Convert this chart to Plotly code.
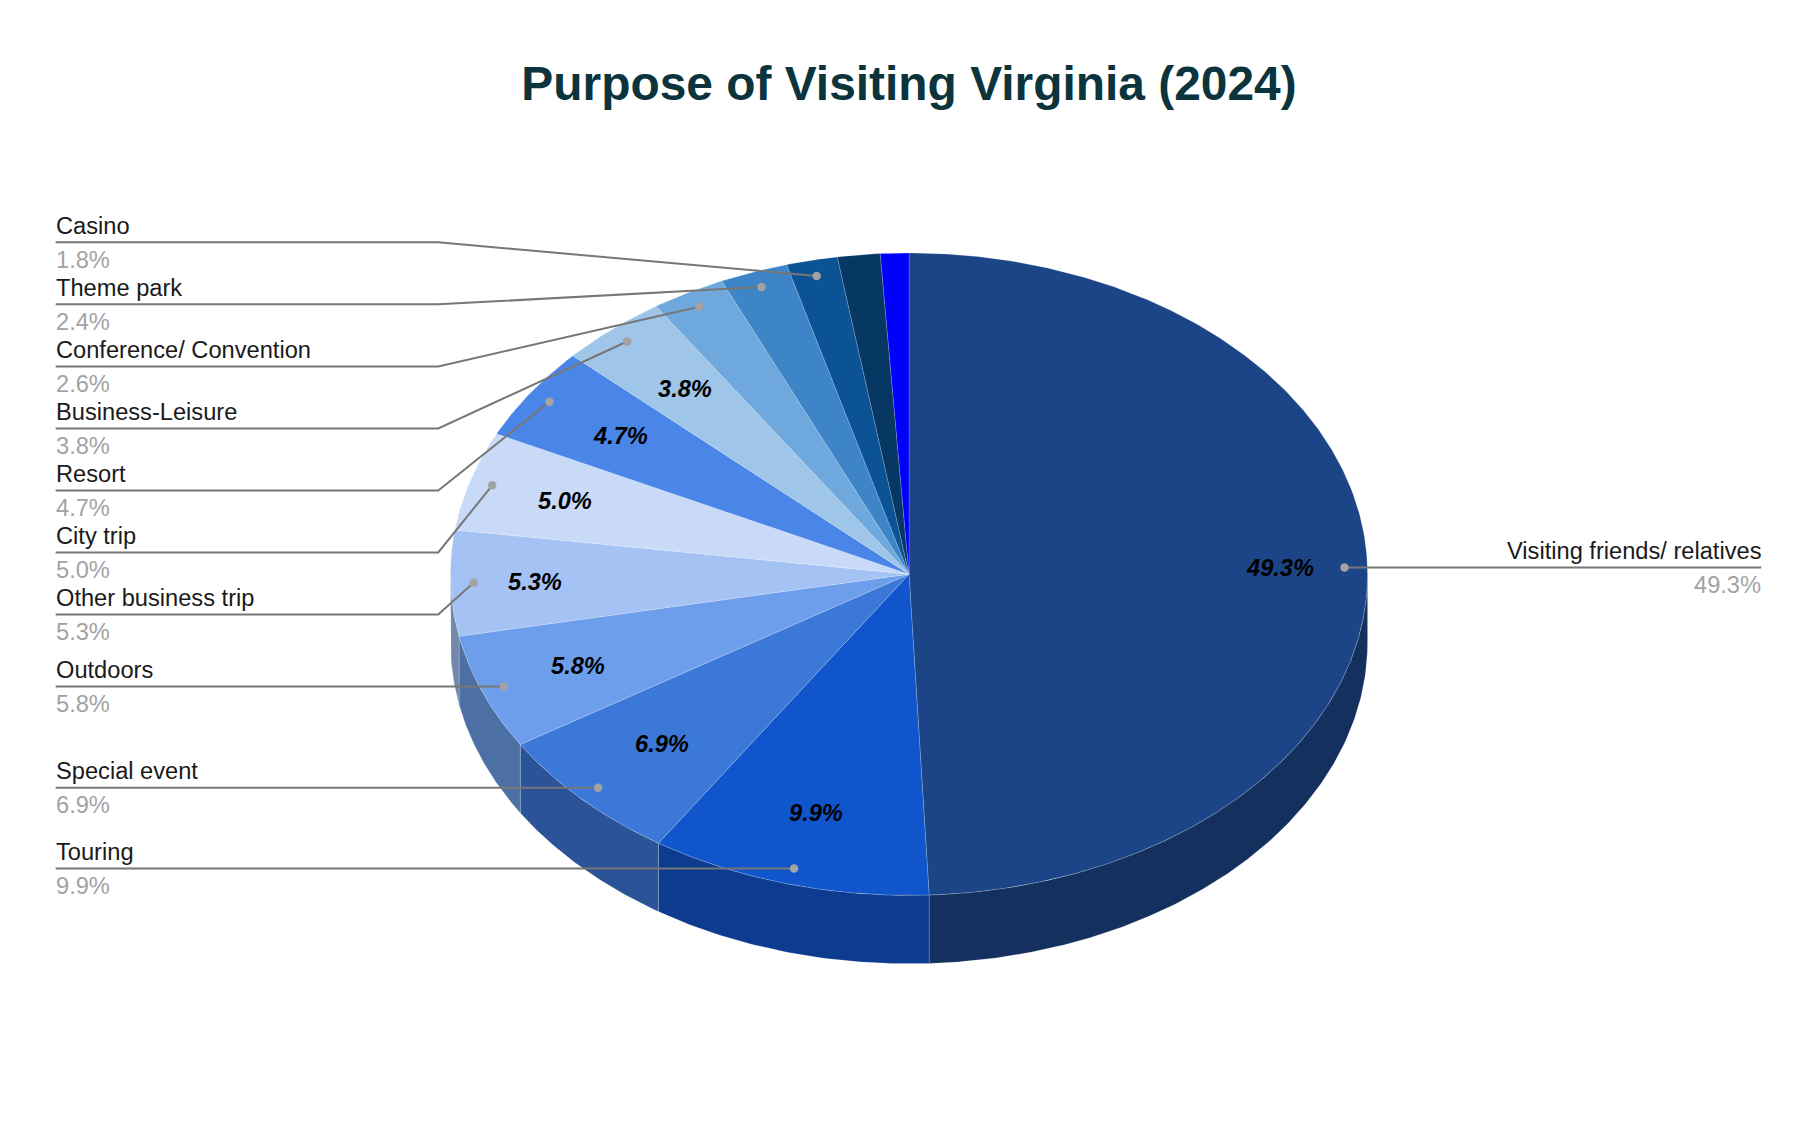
import numpy as np
import plotly.graph_objects as go

TITLE = "Purpose of Visiting Virginia (2024)"
categories = ["Visiting friends/ relatives", "Touring", "Special event", "Outdoors",
              "Other business trip", "City trip", "Resort", "Business-Leisure",
              "Conference/ Convention", "Theme park", "Casino", "", ""]
values = [49.3, 9.9, 6.9, 5.8, 5.3, 5.0, 4.7, 3.8, 2.6, 2.4, 1.8, 1.5, 1.0]
colors = ["#1c4587", "#1155cc", "#3c78d8", "#6d9eeb", "#a4c2f4", "#c9daf8", "#4a86e8",
          "#9fc5e8", "#6fa8dc", "#3d85c6", "#0b5394", "#073763", "#0000ff"]

# layout constants (pixels of the 1818x1122 page)
S = 1818 / 1568
CX, CY, RX, RY, DEPTH = 784 * S, 495.2 * S, 395.5 * S, 277 * S, 59 * S
FONT = "Liberation Sans"
LABEL_LEFT, LABEL_ELBOW, LABEL_RIGHT = 48 * S, 378 * S, 1519 * S
TEXT_NUDGE = 1.8 * S
LABEL_SIZE, PCT_OFFSET_UP, PCT_OFFSET_DOWN = 23.65, 14.5 * S, 15 * S
DOT_R = 0.95
INNER_R = {0: 0.81, 1: 0.77, 2: 0.755, 3: 0.776, 4: 0.815, 5: 0.785, 6: 0.762, 7: 0.755}
# y of the horizontal leader run for each labelled slice (None: run at the dot's own height)
LEADER_Y = {10: 209, 9: 262.5, 8: 316, 7: 369.5, 6: 423, 5: 476.5, 4: 530}


def pt(t, f=1.0, drop=0.0):
    t = np.radians(t)
    return CX + RX * f * np.sin(t), CY - RY * f * np.cos(t) + drop


def shade(hex_colour, k=0.7):
    r, g, b = (int(hex_colour[i:i + 2], 16) for i in (1, 3, 5))
    return f"rgb({r * k:.0f},{g * k:.0f},{b * k:.0f})"


total = sum(values)
edges = np.concatenate([[0], np.cumsum(values)]) / total * 360
fig = go.Figure()
EDGE = "rgba(255,255,255,0.22)"

# side wall
for i, c in enumerate(colors):
    a, b = max(edges[i], 90), min(edges[i + 1], 270)
    if b <= a:
        continue
    t = np.linspace(a, b, max(int(b - a) * 2, 2))
    xt, yt = pt(t)
    xb, yb = pt(t[::-1], drop=DEPTH)
    fig.add_trace(go.Scatter(x=np.r_[xt, xb, xt[0]], y=np.r_[yt, yb, yt[0]], mode="lines",
                             fill="toself", fillcolor=shade(c), line=dict(color=EDGE, width=0.8),
                             hoverinfo="skip", showlegend=False))

# top face
for i, c in enumerate(colors):
    t = np.linspace(edges[i], edges[i + 1], max(int(edges[i + 1] - edges[i]) * 2, 3))
    x, y = pt(t)
    fig.add_trace(go.Scatter(x=np.r_[CX, x, CX], y=np.r_[CY, y, CY], mode="lines",
                             fill="toself", fillcolor=c, line=dict(color=EDGE, width=0.8),
                             name=categories[i] or "Other", text=f"{values[i]}%",
                             hoverinfo="name+text", showlegend=False))

# leader lines, dots, labels
annotations = []
dots_x, dots_y = [], []
for i, name in enumerate(categories):
    if not name:
        continue
    mid = (edges[i] + edges[i + 1]) / 2
    dx, dy = pt(mid, DOT_R)
    dots_x.append(dx)
    dots_y.append(dy)
    ly = LEADER_Y[i] * S if i in LEADER_Y else dy
    if i == 0:
        lx, ly_pts = [dx, LABEL_RIGHT], [dy, dy]
    elif i in LEADER_Y:
        lx, ly_pts = [LABEL_LEFT, LABEL_ELBOW, dx], [ly, ly, dy]
    else:
        lx, ly_pts = [LABEL_LEFT, dx], [dy, dy]
    fig.add_trace(go.Scatter(x=lx, y=ly_pts, mode="lines", line=dict(color="#777777", width=2),
                             hoverinfo="skip", showlegend=False))
    tx, anchor = (LABEL_RIGHT + TEXT_NUDGE, "right") if i == 0 else (LABEL_LEFT - TEXT_NUDGE, "left")
    annotations.append(dict(x=tx, y=ly - PCT_OFFSET_UP, text=name, xanchor=anchor, yanchor="middle",
                            showarrow=False, font=dict(family=FONT, size=LABEL_SIZE, color="#1a1a1a")))
    annotations.append(dict(x=tx, y=ly + PCT_OFFSET_DOWN, text=f"{values[i]:.1f}%", xanchor=anchor,
                            yanchor="middle", showarrow=False,
                            font=dict(family=FONT, size=LABEL_SIZE, color="#a3a3a3")))
    if i in INNER_R:
        ix, iy = pt(mid, INNER_R[i])
        annotations.append(dict(x=ix, y=iy, text=f"<b><i>{values[i]:.1f}%</i></b>", xanchor="center",
                                yanchor="middle", showarrow=False,
                                font=dict(family=FONT, size=LABEL_SIZE, color="#000000")))

fig.add_trace(go.Scatter(x=dots_x, y=dots_y, mode="markers",
                         marker=dict(color="#a3a3a3", size=8.5, line=dict(width=0)),
                         hoverinfo="skip", showlegend=False))

fig.update_layout(
    width=1818, height=1122, margin=dict(l=0, r=0, t=0, b=0),
    paper_bgcolor="white", plot_bgcolor="white",
    title=dict(text=f"<b>{TITLE}</b>", x=784 * S / 1818, xref="paper", xanchor="center",
               y=1 - 72 * S / 1122, yref="paper", yanchor="middle",
               font=dict(family=FONT, size=47.9, color="#0c343d")),
    xaxis=dict(range=[0, 1818], visible=False, fixedrange=True),
    yaxis=dict(range=[1122, 0], visible=False, fixedrange=True),
    annotations=annotations,
)
fig.write_html("out.html", config={"displayModeBar": False},
               post_script="document.body.style.margin='0';")
